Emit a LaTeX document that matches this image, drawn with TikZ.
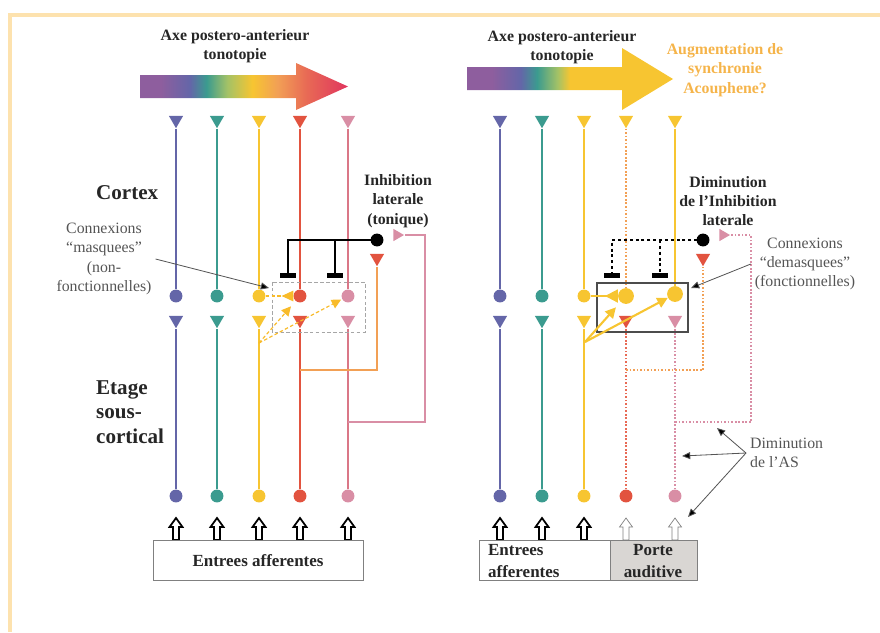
\documentclass[tikz,border=0pt]{standalone}
\usepackage{fontspec}
\setmainfont{Liberation Serif}
\usetikzlibrary{arrows.meta}
\usetikzlibrary{shapes.geometric}

\definecolor{cframe}{HTML}{FDE2AE}
\definecolor{cpurple}{HTML}{8E5E9E}
\definecolor{cblue}{HTML}{6466A8}
\definecolor{cteal}{HTML}{3B9B8F}
\definecolor{cgreen}{HTML}{A4C266}
\definecolor{cyel}{HTML}{F7C531}
\definecolor{corange}{HTML}{F2A055}
\definecolor{ccoral}{HTML}{E86A55}
\definecolor{ccrimson}{HTML}{E0345E}
\definecolor{cred}{HTML}{E2533F}
\definecolor{cpink}{HTML}{D98EA5}
\definecolor{cpinkl}{HTML}{DA7787}
\definecolor{clabel}{HTML}{F5B44A}
\definecolor{cgrey}{HTML}{555555}
\definecolor{cbox}{HTML}{D9D6D3}

\pgfdeclarehorizontalshading{tonoleft}{100bp}{color(0bp)=(cpurple); color(25bp)=(cpurple); color(30bp)=(cpurple);
  color(37bp)=(cblue); color(41bp)=(cteal); color(46bp)=(cgreen); color(52bp)=(cyel);
  color(58bp)=(corange); color(65bp)=(ccoral); color(75bp)=(ccrimson); color(100bp)=(ccrimson)}
\pgfdeclarehorizontalshading{toneright}{100bp}{color(0bp)=(cpurple); color(25bp)=(cpurple); color(31bp)=(cpurple);
  color(38bp)=(cblue); color(42bp)=(cteal); color(47bp)=(cgreen); color(50bp)=(cyel); color(100bp)=(cyel)}

\tikzset{
  soma/.style={circle,fill=#1,inner sep=0pt,minimum size=11pt},
  bigsoma/.style={circle,fill=#1,inner sep=0pt,minimum size=13.5pt},
  tdown/.style={regular polygon,regular polygon sides=3,shape border rotate=180,fill=#1,inner sep=0pt,minimum size=14pt},
  tright/.style={regular polygon,regular polygon sides=3,shape border rotate=-90,fill=#1,inner sep=0pt,minimum size=12pt},
  axon/.style={draw=#1,line width=1.5pt},
  dotaxon/.style={draw=#1,line width=1.5pt,dash pattern=on 1.5pt off 1.5pt},
  inhib/.style={line width=2.5pt,-{Rectangle[length=4pt,width=13pt]}},
  lat/.style={draw=cyel!85!orange,line width=1pt,dash pattern=on 3pt off 2pt,-{Triangle[length=8pt,width=8pt]}},
  latR/.style={draw=cyel,line width=1.8pt,-{Triangle[length=9pt,width=9pt]}},
  pointer/.style={draw=cgrey,line width=0.7pt,-{Triangle[length=7pt,width=6pt,fill=black]}},
  hollow/.pic={\draw[pic actions] (-3,0) -- (-3,-13) -- (-6.5,-13) -- (0,-22) -- (6.5,-13) -- (3,-13) -- (3,0) -- cycle;},
  lbl/.style={font=\fontsize{13.5}{16.5}\selectfont,align=center,text=cgrey},
  blbl/.style={font=\fontsize{13.5}{16.5}\selectfont\bfseries,align=center,text=black!85},
  stage/.style={font=\fontsize{18}{21}\selectfont\bfseries,align=left,text=black!85},
  boxtxt/.style={font=\fontsize{14.5}{18.5}\selectfont\bfseries,text=black!85},
  boxline/.style={draw=gray,line width=0.8pt},
}

\begin{document}
\begin{tikzpicture}[x=0.03cm,y=-0.03cm]
  \useasboundingbox (0,0) rectangle (880,632);

  % frame
  \draw[cframe,line width=3.4pt] (10,632) -- (10,15) -- (880,15);

  % tonotopic axes
  \shade[shading=tonoleft] (140,75) -- (296,75) -- (296,63) -- (348,86.5) -- (296,110) -- (296,98) -- (140,98) -- cycle;
  \shade[shading=toneright] (467,67) -- (622,67) -- (622,48) -- (673,79) -- (622,110) -- (622,90) -- (467,90) -- cycle;
  \node[blbl] (axeL) at (235,46) {Axe postero-anterieur\\tonotopie};
  \node[blbl] (axeR) at (562,47) {Axe postero-anterieur\\tonotopie};
  \node[blbl,text=clabel] (sync) at (725,70) {Augmentation de\\synchronie\\Acouphene?};

  % levels
  \node[stage,anchor=west] (cortex) at (92,193) {Cortex};
  \node[stage,anchor=west] (etage) at (92,412) {Etage\\sous-\\cortical};

  % left panel: columns
  \foreach \x/\c/\l/\n in {176/cblue/cblue/1,217/cteal/cteal/2,259/cyel/cyel/3,300/cred/cred/4,348/cpink/cpinkl/5}{
    \node[tdown=\c] (lt\n) at (\x,120) {};
    \node[soma=\c] (ls\n) at (\x,296) {};
    \node[tdown=\c] (ll\n) at (\x,320) {};
    \node[soma=\c] (lb\n) at (\x,496) {};
    \draw[axon=\l] (lt\n) -- (ls\n);
    \draw[axon=\l] (lb\n) -- (ll\n);
    \pic[draw=black,fill=white,line width=1.5pt] at (\x,540) {hollow};
  }

  % left panel: masked connections
  \draw[gray!70,line width=0.7pt,dash pattern=on 3pt off 2pt] (272,282) rectangle (365,332);
  \coordinate (yL) at (259,343);
  \draw[lat,-{Triangle[reversed,length=10pt,width=9pt]}] (ls3) -- (ls4);
  \draw[lat,shorten >=6pt] (yL) -- (ls4);
  \draw[lat,shorten >=1pt] (yL) -- (ls5);

  % left panel: lateral inhibition (tonic)
  \node[circle,fill=black,inner sep=0pt,minimum size=11pt] (inL) at (377,240) {};
  \coordinate (kL1) at (288,278);
  \coordinate (kL2) at (335,278);
  \draw[inhib] (inL.center) -| (kL1);
  \draw[inhib] (kL2 |- inL) -- (kL2);
  \node[tdown=cred] (fbL) at (377,258) {};
  \coordinate (oL) at (300,370);
  \draw[axon=corange] (oL) -| (fbL);
  \node[tright=cpink] (pbL) at (397,235) {};
  \coordinate (pL) at (348,422);
  \coordinate (pcL) at (425,235);
  \draw[axon=cpink] (pL) -| (pcL) -- (pbL);
  \node[blbl] (inhL) at (398,201) {Inhibition\\laterale\\(tonique)};

  \node[lbl] (cmL) at (104,259) {Connexions\\``masquees''\\(non-\\fonctionnelles)};
  \coordinate (mkL) at (269,288);
  \draw[pointer] (cmL.east) -- (mkL);

  % left panel: inputs
  \draw[boxline] (153,540) rectangle (363,580);
  \node[boxtxt] (entL) at (258,561) {Entrees afferentes};

  % right panel: columns
  \foreach \x/\c/\n in {500/cblue/1,542/cteal/2,584/cyel/3}{
    \node[tdown=\c] (rt\n) at (\x,120) {};
    \node[soma=\c] (rs\n) at (\x,296) {};
    \node[tdown=\c] (rl\n) at (\x,320) {};
    \node[soma=\c] (rb\n) at (\x,496) {};
    \draw[axon=\c] (rt\n) -- (rs\n);
    \draw[axon=\c] (rb\n) -- (rl\n);
    \pic[draw=black,fill=white,line width=1.5pt] at (\x,540) {hollow};
  }
  \node[tdown=cyel] (rt4) at (626,120) {};
  \node[tdown=cyel] (rt5) at (675,120) {};
  \node[bigsoma=cyel] (rs4) at (626,296) {};
  \node[bigsoma=cyel] (rs5) at (675,294) {};
  \node[tdown=cred] (rl4) at (626,320) {};
  \node[tdown=cpink] (rl5) at (675,320) {};
  \node[soma=cred] (rb4) at (626,496) {};
  \node[soma=cpink] (rb5) at (675,496) {};
  \draw[dotaxon=corange] (rt4) -- (rs4);
  \draw[axon=cyel] (rt5) -- (rs5);
  \draw[dotaxon=ccoral] (rb4) -- (rl4);
  \draw[dotaxon=cpink,line width=0.9pt] (rb5) -- (rl5);
  \foreach \x in {626,675}
    \pic[draw=gray,fill=white,line width=0.6pt] at (\x,540) {hollow};

  % right panel: unmasked connections
  \draw[gray!60!black,line width=0.9pt] (597,283) rectangle (688,332);
  \coordinate (yR) at (585,342);
  \draw[latR,-{Triangle[reversed,length=11pt,width=11pt]}] (rs3) -- (rs4);
  \draw[latR,shorten >=6pt] (yR) -- (rs4);
  \draw[latR] (yR) -- (rs5);

  % right panel: reduced lateral inhibition
  \node[circle,fill=black,inner sep=0pt,minimum size=11pt] (inR) at (703,240) {};
  \coordinate (kR1) at (612,278);
  \coordinate (kR2) at (660,278);
  \draw[inhib,dash pattern=on 2.6pt off 2.4pt] (inR.center) -| (kR1);
  \draw[inhib,dash pattern=on 2.6pt off 2.4pt] (kR2 |- inR) -- (kR2);
  \node[tdown=cred] (fbR) at (703,258) {};
  \coordinate (oR) at (626,370);
  \draw[dotaxon=corange] (oR) -| (fbR);
  \node[tright=cpink] (pbR) at (723,235) {};
  \coordinate (pR) at (675,422);
  \coordinate (pcR) at (751,235);
  \draw[dotaxon=cpink,line width=0.9pt] (pR) -| (pcR) -- (pbR);
  \node[blbl] (inhR) at (728,201) {Diminution\\de l'Inhibition\\laterale};

  \node[lbl] (cdR) at (805,264) {Connexions\\``demasquees''\\(fonctionnelles)};
  \coordinate (mkR) at (691,288);
  \draw[pointer] (cdR.west) -- (mkR);

  \node[lbl,align=left,anchor=west] (asR) at (746,453) {Diminution\\de l'AS};
  \coordinate (asT1) at (717,428);
  \coordinate (asT2) at (682,456);
  \coordinate (asT3) at (688,517);
  \foreach \t in {asT1,asT2,asT3}
    \draw[pointer] (asR.west) -- (\t);

  % right panel: inputs
  \fill[cbox] (610,540) rectangle (697,580);
  \draw[boxline] (479,540) rectangle (697,580);
  \draw[boxline] (610,540) -- (610,580);
  \node[boxtxt,align=left,anchor=west] (entR) at (484,561) {Entrees\\afferentes};
  \node[boxtxt,align=center] (porte) at (653,561) {Porte\\auditive};

\end{tikzpicture}
\end{document}
